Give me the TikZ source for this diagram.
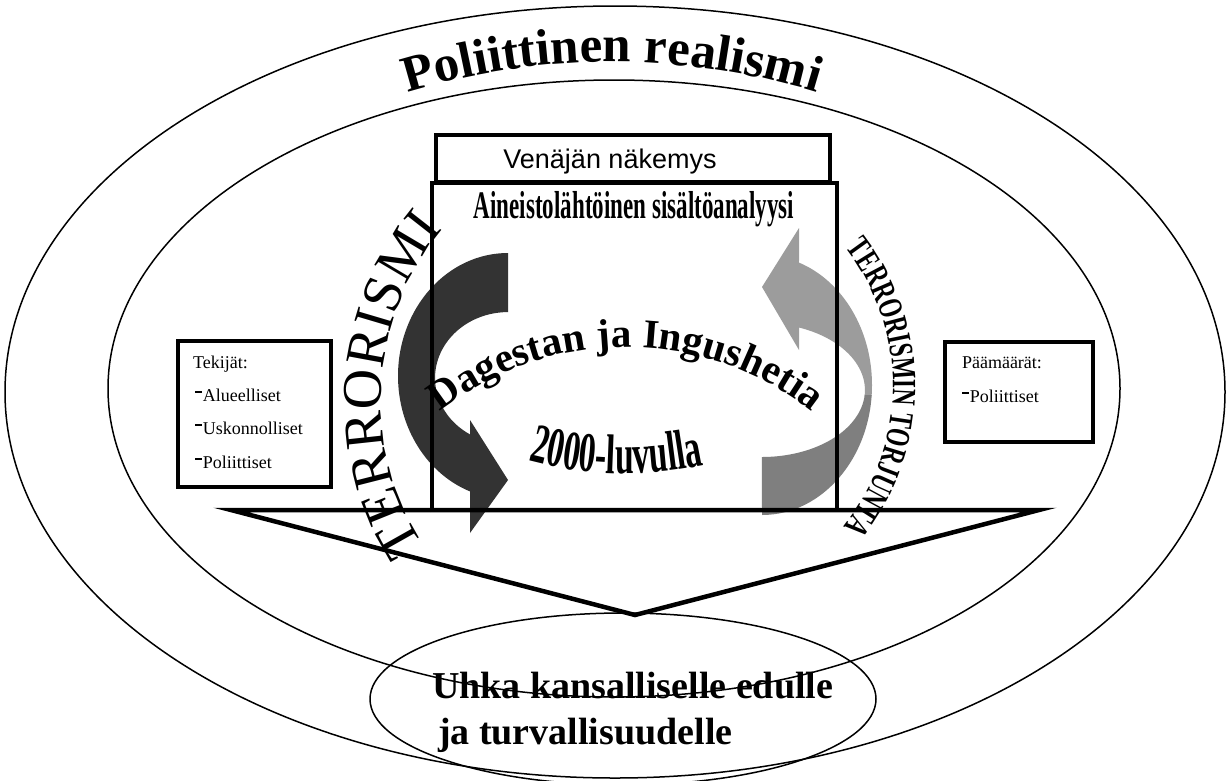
\documentclass[tikz,border=0pt]{standalone}
\usepackage{fontspec}
\setmainfont{Liberation Serif}
\newfontfamily\sansf{Liberation Sans}
\newfontfamily\condA[FakeStretch=0.59]{Liberation Serif}
\newfontfamily\condB[FakeStretch=0.6]{Liberation Serif}
\newfontfamily\condC[FakeStretch=0.68]{Liberation Serif}
\usetikzlibrary{decorations.text}
\newcommand{\fsz}[1]{\fontsize{#1}{#1}\selectfont}
\newcommand{\dashmark}{\rule[0.47em]{0.38em}{0.1em}\hspace{0.06em}}
\newcommand{\titlefont}{\bfseries\fontsize{51}{51}\selectfont}
\newcommand{\dagfont}{\bfseries\fontsize{41}{41}\selectfont}
\newcommand{\terfont}{\fontsize{56}{56}\selectfont}
\newcommand{\torfont}{\condC\bfseries\fontsize{34}{34}\selectfont}
\newcommand{\luvfont}{\condB\bfseries\fontsize{56}{56}\selectfont}
\definecolor{arrowdark}{HTML}{333333}
\definecolor{arrowlight}{HTML}{9C9C9C}
\definecolor{arrowmid}{HTML}{7F7F7F}
\begin{document}
\begin{tikzpicture}[x=1pt,y=1pt,
  thinline/.style={line width=1.5},
  thickline/.style={line width=4.5, line join=miter, miter limit=30},
  boxline/.style={line width=4.5},
  lbl/.style={inner sep=0, outer sep=0, anchor=base west},
  ctr/.style={inner sep=0, outer sep=0, anchor=base}]
\useasboundingbox (0,0) rectangle (1231,-780);
\clip (0,0) rectangle (1231,-780);
\fill[white] (0,0) rectangle (1231,-780);

% ellipses
\draw[thinline] (615,-392) ellipse[x radius=610, y radius=386];
\draw[thinline] (614,-388.5) ellipse[x radius=506, y radius=308.5];

% dark curved arrow (left)
\fill[arrowdark] (508,-253) arc[start angle=90, end angle=249.8, x radius=110, y radius=123]
  -- (470,-533) -- (508,-480) -- (470,-420) -- (470,-434.4)
  arc[start angle=238.6, end angle=90, x radius=73, y radius=66] -- cycle;

% light curved arrow (right)
\begin{scope}
\clip (700,-200) rectangle (900,-395);
\fill[arrowlight] (762,-515) arc[start angle=-90, end angle=70.35, x radius=110, y radius=130]
  -- (799,-228) -- (762,-287) -- (799,-350) -- (799,-327.5)
  arc[start angle=68.9, end angle=-90, x radius=103, y radius=67] -- cycle;
\end{scope}
\begin{scope}
\clip (700,-395) rectangle (900,-560);
\fill[arrowmid] (762,-515) arc[start angle=-90, end angle=70.35, x radius=110, y radius=130]
  -- (799,-228) -- (762,-287) -- (799,-350) -- (799,-327.5)
  arc[start angle=68.9, end angle=-90, x radius=103, y radius=67] -- cycle;
\end{scope}

% main box and triangle
\draw[thickline] (432,-512) -- (432,-183) -- (837,-183) -- (837,-512);
\draw[line width=3.5] (436,-135) rectangle (830,-182);
\draw[thickline] (231,-510) -- (1039,-510) -- (635,-615) -- cycle;

% side boxes
\draw[boxline] (178,-341) rectangle (331,-487);
\draw[boxline] (945,-342) rectangle (1093,-442);

% bottom ellipse
\draw[thinline] (623,-699) ellipse[x radius=253, y radius=86];

% texts
\path[decorate, decoration={text along path, text align=center,
  text={|\titlefont|Poliittinen realismi}}]
  (612,-762) ++(109:700) arc[start angle=109, end angle=71, radius=700];

\node[ctr] (ven) at (610,-168) {\sansf\fsz{27}Venäjän näkemys};
\node[ctr] (ain) at (634,-218) {\condA\bfseries\fsz{39}Aineistolähtöinen sisältöanalyysi};

\path[decorate, decoration={text along path, text align=center,
  text={|\dagfont|Dagestan ja Ingushetia}}]
  (626,-647) ++(131:300) arc[start angle=131, end angle=49, radius=300];

\path[decorate, decoration={text along path, text align=center,
  text={|\luvfont|2000-luvulla}}]
  (515,-457) .. controls (580,-477) and (650,-479) .. (718,-462);

\path[decorate, decoration={text along path, text align=center,
  text={|\terfont|TERRORISMI}}]
  (647,-400) ++(219:266) arc[start angle=219, end angle=134, radius=266];

\path[decorate, decoration={text along path, text align=center,
  text={|\torfont|TERRORISMIN TORJUNTA}}]
  (667,-386) ++(47:226) arc[start angle=47, end angle=-48, radius=226];

\node[lbl] (tek) at (193,-368) {\fsz{18}Tekijät:};
\node[lbl] (alu) at (195,-401) {\fsz{18}\dashmark Alueelliset};
\node[lbl] (usk) at (195,-434) {\fsz{18}\dashmark Uskonnolliset};
\node[lbl] (pol) at (195,-468) {\fsz{18}\dashmark Poliittiset};
\node[lbl] (paa) at (962,-368) {\fsz{18}Päämäärät:};
\node[lbl] (pol2) at (962,-402) {\fsz{18}\dashmark Poliittiset};

\node[lbl] (uhka) at (432,-698) {\bfseries\fsz{38}Uhka kansalliselle edulle};
\node[lbl] (turv) at (438,-744) {\bfseries\fsz{38}ja turvallisuudelle};
\end{tikzpicture}
\end{document}
